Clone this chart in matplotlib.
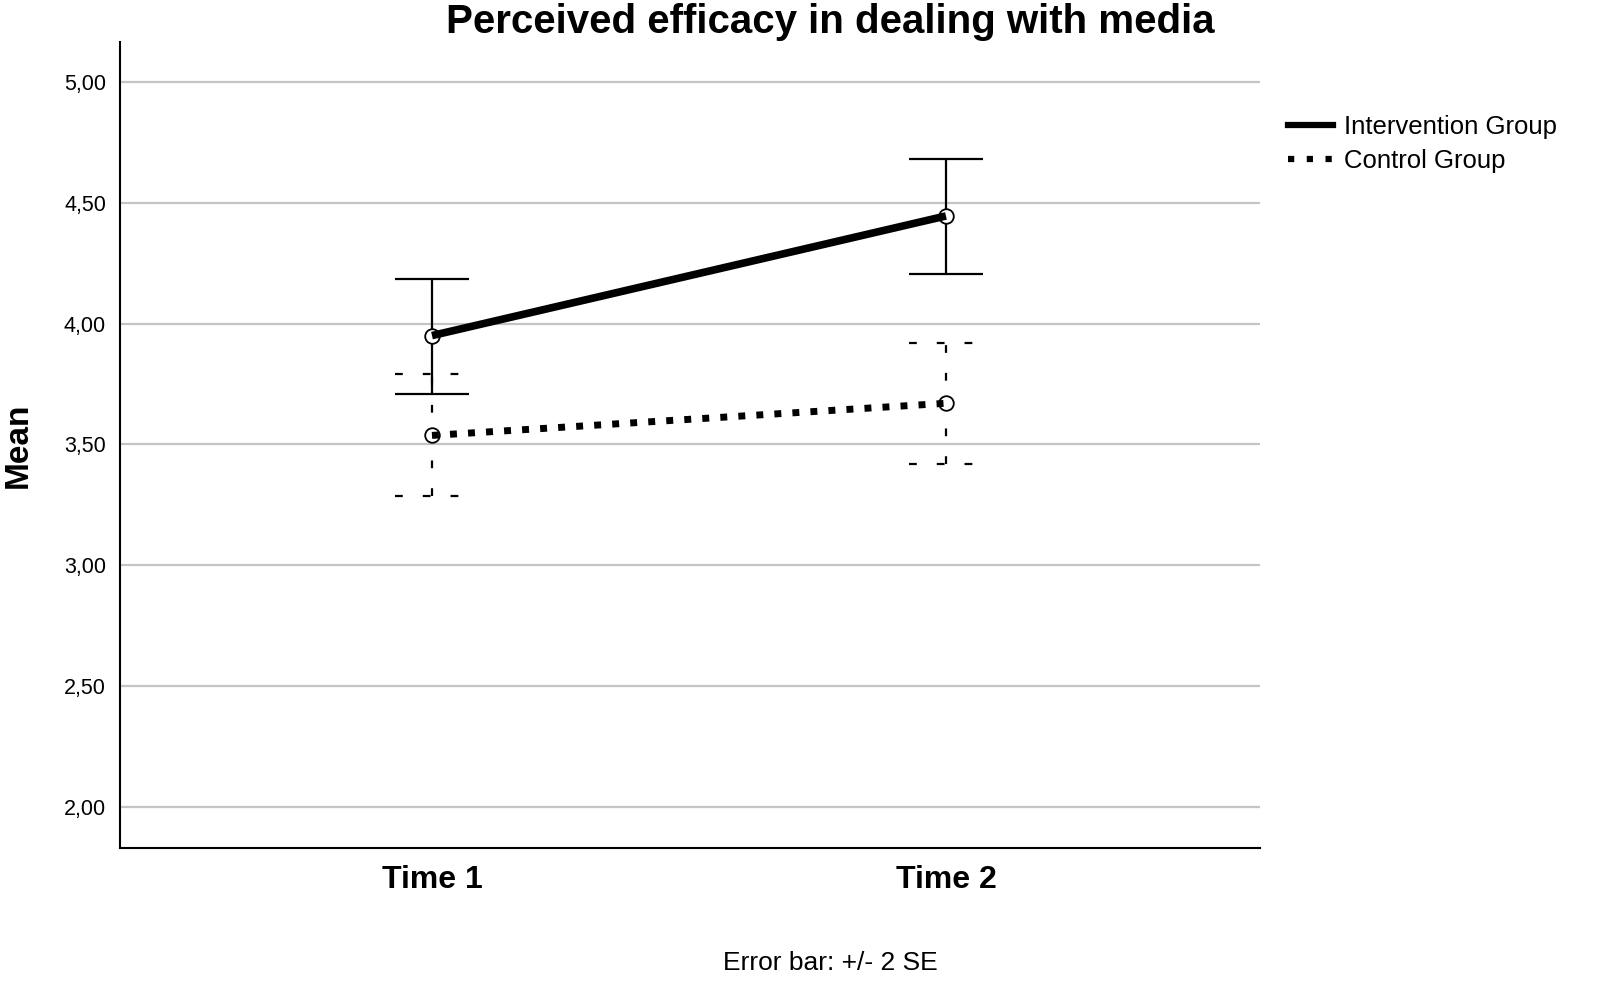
import numpy as np
import matplotlib
matplotlib.use('Agg')
import matplotlib.pyplot as plt
from matplotlib.lines import Line2D
from matplotlib.ticker import FuncFormatter

plt.rcParams['font.family'] = ['Liberation Sans', 'DejaVu Sans']

# 데이터
times = ['Time 1', 'Time 2']
interv_mean = [3.95, 4.445]
interv_lo = [3.71, 4.205]
interv_hi = [4.185, 4.68]
ctrl_mean = [3.537, 3.67]
ctrl_lo = [3.285, 3.417]
ctrl_hi = [3.79, 3.92]
yticks = [2.0, 2.5, 3.0, 3.5, 4.0, 4.5, 5.0]

fig = plt.figure(figsize=(16, 9.99), dpi=100)
ax = fig.add_axes([0.075, 0.1512, 0.7125, 0.8068])
x = np.arange(len(times))
cap = 0.072

# 오차 막대
for i in x:
    ax.vlines(i, interv_lo[i], interv_hi[i], color='black', lw=1.6, zorder=3)
    ax.hlines([interv_lo[i], interv_hi[i]], i - cap, i + cap, color='black', lw=1.6, zorder=3)
    ax.vlines(i, ctrl_lo[i], ctrl_hi[i], color='black', lw=1.6, linestyles=(0, (3.5, 9)), zorder=3)
    ax.hlines([ctrl_lo[i], ctrl_hi[i]], i - cap, i + cap, color='black', lw=1.6,
              linestyles=(0, (3.5, 9)), zorder=3)

# 평균 선
ax.plot(x, interv_mean, 'o', ms=10.5, mfc='white', mec='black', mew=1.3, zorder=4)
ax.plot(x, ctrl_mean, 'o', ms=10.5, mfc='white', mec='black', mew=1.3, zorder=4)
ax.plot(x, interv_mean, color='black', lw=5.5, solid_capstyle='butt', zorder=5)
ax.plot(x, ctrl_mean, color='black', lw=5, linestyle=(0, (1, 1.6)), dash_capstyle='butt', zorder=5)

ax.set_xlim(-0.607, 1.611)
ax.set_ylim(1.83, 5.165)
ax.set_xticks(x)
ax.set_xticklabels(times, fontsize=23, fontweight='bold')
ax.set_yticks(yticks)
ax.yaxis.set_major_formatter(FuncFormatter(lambda v, p: f'{v:.2f}'.replace('.', ',')))
ax.tick_params(axis='y', labelsize=15.5, length=0, pad=10)
ax.tick_params(axis='x', length=0, pad=12)
ax.yaxis.grid(True, color='#c4c4c4', lw=1.6)
ax.set_axisbelow(True)
for s in ['top', 'right']:
    ax.spines[s].set_visible(False)
for s in ['left', 'bottom']:
    ax.spines[s].set_linewidth(1.5)
ax.set_ylabel('Mean', fontsize=24, fontweight='bold', labelpad=22)

fig.text(830 / 1600, 1 - 22 / 999, 'Perceived efficacy in dealing with media',
         ha='center', va='center', fontsize=29, fontweight='bold')
fig.text(830 / 1600, 1 - 963 / 999, 'Error bar: +/- 2 SE', ha='center', va='center', fontsize=19)

handles = [Line2D([], [], color='black', lw=4.5),
           Line2D([], [], color='black', lw=4.5, linestyle=(0, (1, 2)), dash_capstyle='butt')]
fig.legend(handles, ['Intervention Group', 'Control Group'], loc='upper left',
           bbox_to_anchor=(1278 / 1600, 1 - 105 / 999), frameon=False, fontsize=18.5,
           handlelength=1.75, handletextpad=0.4, labelspacing=0.36, borderaxespad=0)

fig.savefig('out.png', dpi=100)
